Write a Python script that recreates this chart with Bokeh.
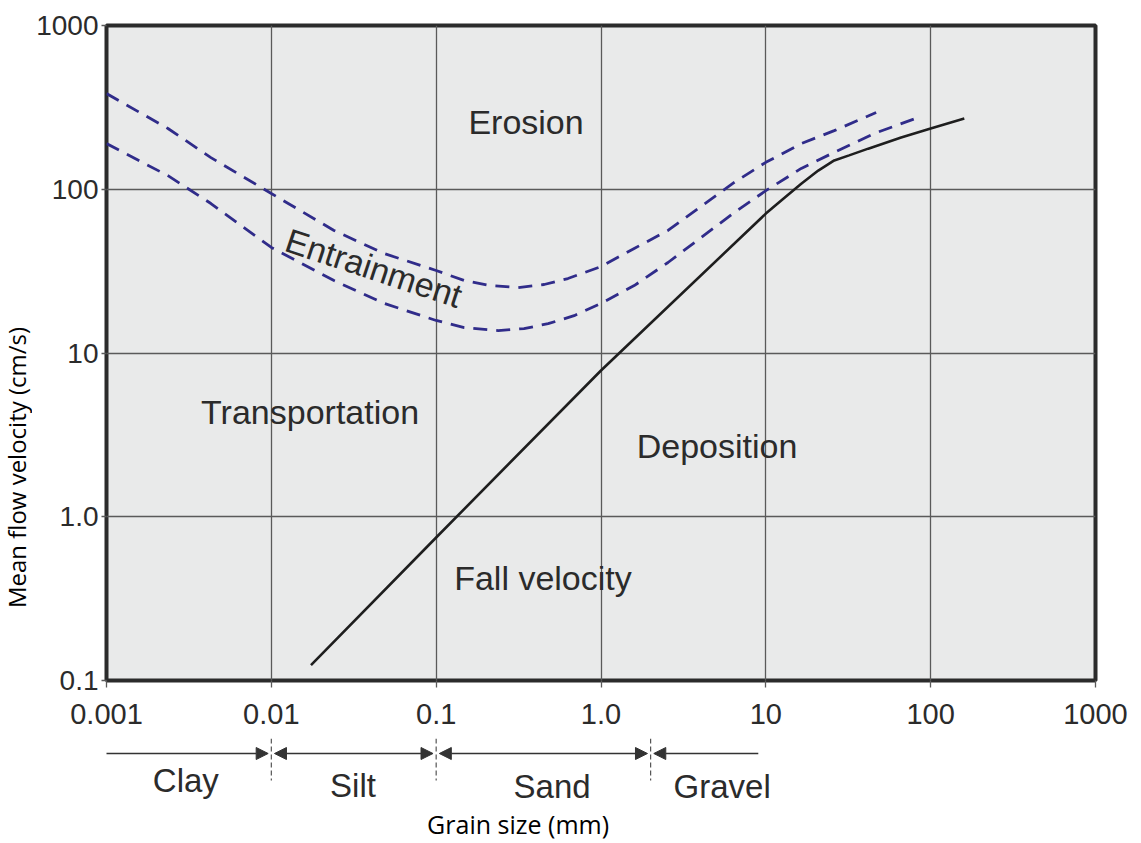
import math
from bokeh.plotting import figure
from bokeh.layouts import column, row
from bokeh.models import FixedTicker, Arrow, NormalHead
from bokeh.core.properties import value
from bokeh.embed import file_html
from bokeh.resources import INLINE

# ---------------- data ----------------
x_ticks = [0.001, 0.01, 0.1, 1.0, 10, 100, 1000]
x_tick_labels = ["0.001", "0.01", "0.1", "1.0", "10", "100", "1000"]
y_ticks = [0.1, 1.0, 10, 100, 1000]
y_tick_labels = ["0.1", "1.0", "10", "100", "1000"]

# upper entrainment (erosion) curve
upper_x = [0.001, 0.00236, 0.0043, 0.01, 0.024, 0.0483, 0.1, 0.148, 0.215, 0.314,
           0.452, 0.63, 1.0, 1.59, 2.55, 4.05, 6.43, 10, 16.4, 26, 46.7]
upper_y = [384, 235, 156, 94.2, 56, 40.5, 31.9, 27.7, 25.8, 25.1,
           26.2, 28.5, 33.7, 43.5, 56, 78.5, 110, 146, 190, 228, 294]

# lower entrainment curve
lower_x = [0.001, 0.00236, 0.0043, 0.01, 0.024, 0.0483, 0.1, 0.148, 0.238, 0.341,
           0.478, 0.687, 1.0, 1.59, 2.55, 4.05, 6.43, 10, 16.4, 26, 45.4, 84]
lower_y = [190, 121, 81.8, 44.1, 27.7, 20.1, 15.8, 14.3, 13.7, 14.1,
           15.1, 16.9, 20.1, 25.8, 35.7, 50.7, 72.1, 98, 134, 168, 219, 274]

# fall velocity curve
fall_x = [0.0174, 0.1, 1.0, 10, 12.4, 16.4, 20.8, 26, 32, 41.8, 66.2, 100, 160]
fall_y = [0.124, 0.747, 7.82, 71, 85.4, 108, 130, 150, 161, 177, 207, 235, 270]

# region labels
region_text = ["Erosion", "Transportation", "Deposition", "Fall velocity"]
region_x = [0.351, 0.01718, 5.06, 0.1286]
region_y = [259, 4.39, 2.69, 0.42]
region_align = ["center", "center", "center", "left"]

entrain_text = ["Entrainment"]
entrain_x = [0.01242]
entrain_y = [49.6]

# grain size classes
class_bounds = [0.01, 0.1, 2.0]
class_names = ["Clay", "Silt", "Sand", "Gravel"]
class_label_x = [0.00303, 0.0313, 0.505, 5.43]
class_span_start = [0.00089, 0.01, 0.1, 2.0]
class_span_end = [0.01, 0.1, 2.0, 9.0]

x_title = "Grain size (mm)"
y_title = "Mean flow velocity (cm/s)"

# ---------------- styles ----------------
BG = "#e9eaea"
GRID = "#5a5a5a"
TXT = "#2b2b2b"
BLUE = "#302c8a"
FONT = "Liberation Sans"
TITLE_FONT = "Open Sans"

LW = 32              # left strip holding the y title
W = 1141 - LW
BL = 106 - LW        # left border of the main plot
P_H = 738
Q_H = 843 - P_H

p = figure(width=W, height=P_H, x_axis_type="log", y_axis_type="log",
           x_range=(0.001, 1000), y_range=(0.1, 1000),
           min_border_left=BL, min_border_right=46, min_border_top=25, min_border_bottom=58,
           output_backend="svg", toolbar_location=None)
p.background_fill_color = BG
p.border_fill_color = "white"
p.outline_line_color = "#2b2b2b"
p.outline_line_width = 4

p.xaxis.ticker = FixedTicker(ticks=x_ticks, minor_ticks=[])
p.yaxis.ticker = FixedTicker(ticks=y_ticks, minor_ticks=[])
p.xaxis.major_label_overrides = {t: l for t, l in zip(x_ticks, x_tick_labels)}
p.yaxis.major_label_overrides = {t: l for t, l in zip(y_ticks, y_tick_labels)}
for ax in (p.xaxis, p.yaxis):
    ax.axis_line_color = None
    ax.major_tick_in = 0
    ax.major_tick_line_color = GRID
    ax.major_tick_line_width = 1.3
    ax.minor_tick_line_color = None
    ax.major_label_text_font = FONT
    ax.major_label_text_color = TXT
p.xaxis.major_tick_out = 7
p.yaxis.major_tick_out = 5
p.xaxis.major_label_text_font_size = "29px"
p.yaxis.major_label_text_font_size = "28px"
p.xaxis.major_label_standoff = 16
p.yaxis.major_label_standoff = 3

p.xgrid.ticker = FixedTicker(ticks=x_ticks, minor_ticks=[])
p.ygrid.ticker = FixedTicker(ticks=y_ticks, minor_ticks=[])
p.grid.grid_line_color = GRID
p.grid.grid_line_width = 1.3

p.line(upper_x, upper_y, line_color=BLUE, line_width=2.8, line_dash="14 9")
p.line(lower_x, lower_y, line_color=BLUE, line_width=2.8, line_dash="14 9")
p.line(fall_x, fall_y, line_color="#1e1e1e", line_width=2.6)

p.text(x=region_x, y=region_y, text=region_text, text_align=region_align,
       text_baseline="middle", text_font=value(FONT), text_font_size="34px",
       text_color=TXT)
p.text(x=entrain_x, y=entrain_y, text=entrain_text, angle=-0.32,
       text_align="left", text_baseline="middle",
       text_font=value(FONT), text_font_size="34px", text_color=TXT)

# ---------------- grain size classes band ----------------
q = figure(width=W, height=Q_H, x_axis_type="log", x_range=p.x_range, y_range=(0, Q_H),
           min_border_left=BL, min_border_right=46, min_border_top=0, min_border_bottom=0,
           x_axis_location=None, y_axis_location=None,
           output_backend="svg", toolbar_location=None)
q.outline_line_color = None
q.grid.visible = False
q.background_fill_color = "white"
q.border_fill_color = "white"

q.segment(x0=class_bounds, y0=[Q_H] * 3, x1=class_bounds, y1=[63] * 3,
          line_color="#555555", line_width=1.2, line_dash="5 3")

gap = 1.045
ARROW_Y = 90
for i, (s, e) in enumerate(zip(class_span_start, class_span_end)):
    x0 = s * gap if i > 0 else s
    x1 = e / gap if i < len(class_span_end) - 1 else e
    start = NormalHead(size=12, fill_color="#333333", line_color="#333333") if i > 0 else None
    end = NormalHead(size=12, fill_color="#333333", line_color="#333333") if i < len(class_span_end) - 1 else None
    q.add_layout(Arrow(x_start=x0, y_start=ARROW_Y, x_end=x1, y_end=ARROW_Y,
                       start=start, end=end, line_color="#333333", line_width=1.3))

class_label_y = [63, 58, 57, 57]
q.text(x=class_label_x, y=class_label_y, text=class_names, text_align="center",
       text_baseline="middle", text_font=value(FONT), text_font_size="33px",
       text_color=TXT)

q.text(x=[0.314], y=[20], text=[x_title], text_align="center",
       text_baseline="middle", text_font=value(TITLE_FONT),
       text_font_size="25px", text_color="black")

# ---------------- left strip with the y title ----------------
L = figure(width=LW, height=843, x_range=(0, LW), y_range=(0, 843),
           min_border_left=0, min_border_right=0, min_border_top=0, min_border_bottom=0,
           x_axis_location=None, y_axis_location=None,
           output_backend="svg", toolbar_location=None)
L.outline_line_color = None
L.grid.visible = False
L.background_fill_color = "white"
L.border_fill_color = "white"
L.text(x=[16], y=[843 - 467], text=[y_title], angle=math.pi / 2,
       text_align="center", text_baseline="middle",
       text_font=value(TITLE_FONT), text_font_size="24px", text_color="black")

layout = row(L, column(p, q, spacing=0), spacing=0)
open("out.html", "w").write(file_html(layout, INLINE))
